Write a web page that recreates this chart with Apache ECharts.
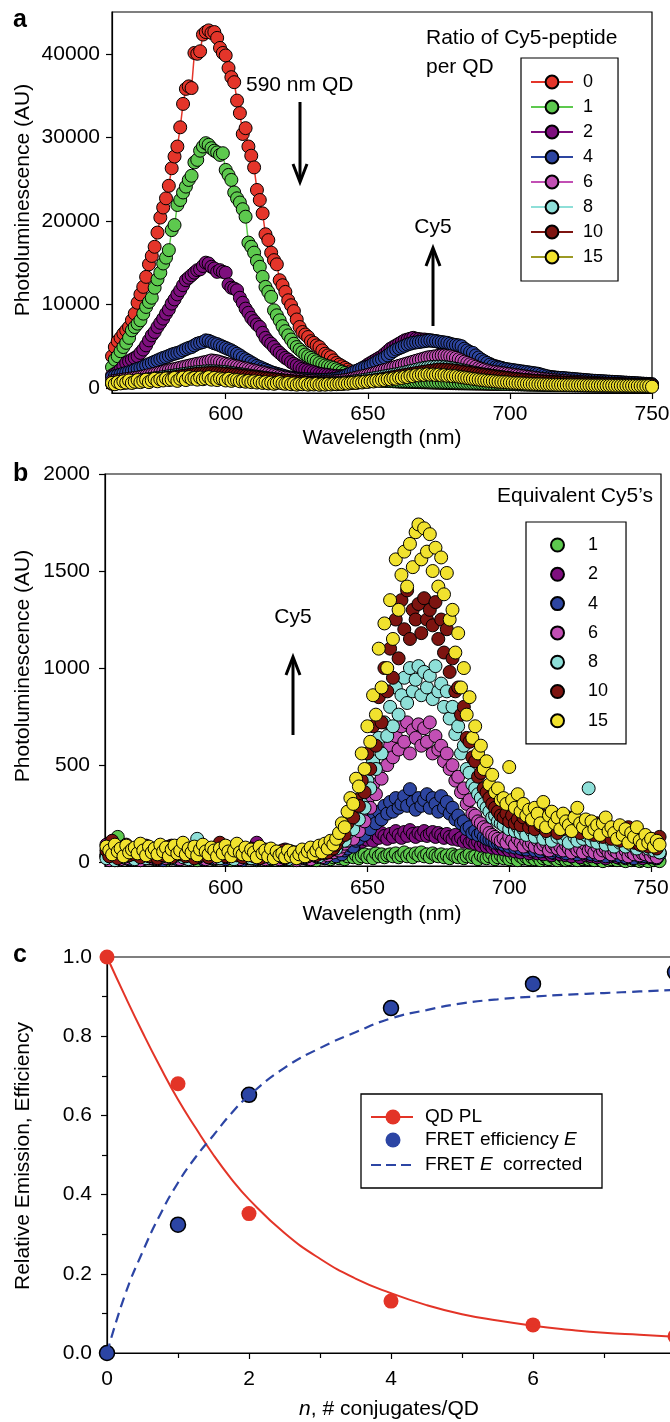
<!DOCTYPE html>
<html>
<head>
<meta charset="utf-8">
<script src="https://cdn.jsdelivr.net/npm/echarts@6/dist/echarts.min.js"></script>
<style>
html, body { margin: 0; padding: 0; background: #fff; }
#chart { width: 670px; height: 1422px; }
</style>
</head>
<body>
<div id="chart"></div>
<script>
// ---------- Panel a: emission spectra, 1 nm steps from 560 to 750 nm ----------
const wavelengthA = [];
for (let w = 560; w <= 750; w++) wavelengthA.push(w);

const ratioLabels = ['0', '1', '2', '4', '6', '8', '10', '15'];

const specA0 = [3800,
  4900,5600,6000,6500,6900,7300,8100,8900,10200,11200,
  12100,13300,14800,15800,16900,18600,20400,21600,22700,24200,
  26300,27700,28900,31200,34000,35800,36100,35900,40100,40000,
  40300,42300,42600,42800,42500,42600,41900,40700,40100,39800,
  38300,37200,36600,34400,32900,30400,31100,28900,27800,26400,
  23700,22500,20900,18400,17700,16200,15300,14800,12900,12300,
  11500,10500,9900,9200,8200,7300,6700,6400,6100,5600,
  5400,5100,4900,4500,4100,3900,3700,3300,3000,2800,
  2600,2400,2200,2000,1850,1700,1550,1400,1300,1200,
  1100,1050,1000,950,900,870,850,820,800,780,
  760,750,740,730,720,710,700,690,680,670,
  660,650,640,630,620,610,600,590,580,570,
  560,550,545,540,535,530,525,520,515,510,
  505,500,495,490,485,480,475,470,465,460,
  455,450,445,440,435,430,425,420,415,410,
  405,400,395,390,385,380,375,370,365,360,
  355,350,345,340,335,330,325,320,318,316,
  314,312,310,308,306,304,302,300,298,296,
  294,292,290,288,286,284,282,280,278,276];

const specA1 = [2500,
  3400,3800,4400,4900,5400,6000,6900,7300,7700,8100,
  8900,9700,10300,10800,12000,13000,13800,14900,15600,16500,
  18900,19500,21900,22500,23400,24100,24900,25400,27000,27300,
  28400,28900,29300,29100,28700,28400,28200,27900,28100,26100,
  25500,24900,23400,22700,22200,21400,20500,17400,16900,16200,
  15200,14500,13300,12100,11500,10900,9300,8700,8100,7400,
  6800,6300,5800,5300,4900,4600,4300,4000,3800,3600,
  3400,3200,3000,2850,2700,2600,2500,2400,2250,2100,
  1950,1800,1650,1500,1400,1300,1200,1100,1050,1000,
  960,930,900,880,860,850,840,840,830,830,
  820,820,810,810,800,800,790,790,780,770,
  760,750,740,730,720,710,700,690,680,670,
  660,650,640,630,620,610,600,590,580,570,
  560,550,540,530,520,510,500,490,480,470,
  460,450,440,430,420,410,400,395,390,385,
  380,375,370,365,360,355,350,345,340,335,
  330,325,320,315,310,305,300,298,296,294,
  292,290,288,286,284,282,280,278,276,274,
  272,270,268,266,264,262,260,258,256,254];

const specA2 = [1500,
  1700,1900,2200,2600,3000,3200,3400,3600,3800,4200,
  4600,5100,5700,6300,6700,7300,7800,8300,8900,9400,
  10100,10600,11200,11700,12300,12900,13200,13500,13800,14100,
  14200,14600,15000,14900,14500,14300,13900,14100,13900,13800,
  12400,12000,11900,11700,10800,10200,9500,9000,8400,8000,
  7600,7300,6600,6000,5600,5300,4900,4500,4200,3900,
  3600,3400,3100,2900,2700,2500,2300,2200,2100,2000,
  1900,1800,1700,1650,1600,1550,1500,1450,1420,1400,
  1420,1480,1560,1680,1800,1950,2150,2350,2550,2800,
  3000,3200,3400,3600,3800,4100,4400,4700,4900,5100,
  5300,5500,5700,5800,5900,6000,5900,5850,5800,5800,
  5750,5700,5650,5600,5500,5400,5300,5200,5100,5000,
  4850,4700,4550,4400,4200,4000,3800,3600,3450,3300,
  3150,3000,2850,2700,2600,2500,2400,2300,2200,2100,
  2030,1960,1900,1840,1780,1720,1660,1610,1560,1500,
  1460,1420,1380,1340,1300,1260,1220,1180,1140,1100,
  1070,1040,1010,980,950,925,900,875,850,830,
  810,790,770,750,730,710,690,670,650,630,
  610,590,570,550,530,510,490,470,450,430];

const specA4 = [1300,
  1400,1500,1600,1700,1800,1900,2000,2150,2300,2400,
  2550,2700,2850,3000,3150,3300,3450,3600,3700,3850,
  4000,4100,4200,4300,4500,4650,4800,4900,5100,5300,
  5400,5500,5700,5650,5500,5350,5250,5100,4950,4800,
  4650,4500,4300,4100,3900,3650,3450,3250,3050,2850,
  2650,2500,2350,2200,2050,1900,1800,1700,1600,1500,
  1400,1300,1250,1200,1150,1100,1080,1060,1040,1020,
  1000,990,980,980,990,1000,1030,1070,1120,1200,
  1300,1450,1600,1750,1900,2050,2200,2350,2450,2550,
  2700,2900,3100,3300,3450,3650,3900,4150,4400,4600,
  4750,4900,5050,5200,5300,5400,5450,5500,5550,5600,
  5650,5700,5650,5600,5550,5500,5450,5400,5300,5200,
  5150,5100,5000,4700,4500,4300,4200,3900,3650,3400,
  3200,3000,2800,2650,2500,2450,2400,2300,2250,2200,
  2150,2100,2050,2000,1950,1900,1850,1800,1750,1700,
  1600,1500,1400,1300,1250,1230,1210,1200,1180,1150,
  1120,1090,1060,1030,1000,970,940,910,880,860,
  840,820,800,780,760,740,720,700,680,660,
  640,620,600,580,560,540,520,500,480,460];

const specA6 = [800,
  850,900,950,1000,1050,1100,1150,1200,1250,1300,
  1380,1460,1540,1620,1700,1780,1860,1940,2020,2100,
  2180,2260,2340,2420,2500,2580,2660,2740,2820,2900,
  2950,3050,3100,3200,3300,3250,3200,3100,3000,2900,
  2820,2740,2660,2580,2500,2420,2340,2260,2180,2100,
  2020,1940,1860,1780,1700,1620,1540,1460,1380,1300,
  1240,1180,1120,1060,1000,960,920,880,850,820,
  800,780,770,760,760,760,770,790,820,850,
  890,940,1000,1070,1150,1230,1310,1390,1470,1550,
  1650,1750,1850,1950,2050,2150,2250,2350,2450,2550,
  2650,2750,2850,2950,3050,3150,3250,3350,3450,3550,
  3650,3700,3750,3800,3850,3900,3900,3850,3800,3700,
  3600,3450,3300,3150,3000,2850,2700,2550,2400,2300,
  2200,2100,2000,1950,1900,1850,1800,1750,1700,1650,
  1600,1550,1500,1450,1400,1350,1300,1250,1200,1150,
  1100,1060,1020,980,950,920,890,860,830,800,
  780,760,740,720,700,680,660,640,620,600,
  580,560,540,520,500,490,480,470,460,450,
  440,430,420,410,400,390,380,370,360,350];

const specA8 = [600,
  630,660,690,720,750,780,810,840,870,900,
  950,1000,1050,1100,1150,1200,1250,1300,1350,1400,
  1450,1500,1550,1600,1650,1700,1750,1800,1850,1900,
  1930,1960,1990,2000,2000,1990,1970,1950,1930,1900,
  1850,1800,1750,1700,1650,1600,1550,1500,1450,1400,
  1350,1300,1250,1200,1150,1100,1050,1000,950,900,
  860,820,780,740,700,680,660,640,620,600,
  590,580,570,560,560,560,570,580,590,600,
  620,650,690,730,780,830,880,930,980,1040,
  1100,1160,1220,1280,1340,1400,1460,1520,1580,1640,
  1700,1780,1860,1940,2020,2100,2180,2260,2340,2400,
  2450,2500,2520,2540,2550,2540,2500,2450,2400,2350,
  2280,2210,2140,2070,2000,1930,1860,1790,1720,1650,
  1600,1550,1500,1450,1400,1350,1300,1250,1200,1150,
  1110,1070,1030,990,960,930,900,870,840,810,
  790,770,750,730,710,690,670,650,630,610,
  590,570,550,540,530,520,510,500,490,480,
  470,460,450,440,430,420,410,400,390,380,
  370,360,350,340,330,320,310,300,290,280];

const specA10 = [500,
  530,560,590,620,650,680,710,740,770,800,
  840,880,920,960,1000,1040,1080,1120,1160,1200,
  1250,1300,1350,1400,1450,1500,1550,1600,1650,1700,
  1720,1740,1760,1780,1800,1790,1770,1750,1720,1700,
  1660,1620,1580,1540,1500,1460,1420,1380,1340,1300,
  1260,1220,1180,1140,1100,1060,1020,980,940,900,
  870,840,810,780,750,720,690,660,630,600,
  580,560,540,520,510,500,500,500,500,500,
  520,540,560,590,620,650,690,730,770,800,
  850,900,950,1000,1060,1120,1180,1240,1300,1360,
  1420,1480,1540,1600,1660,1720,1780,1840,1900,1950,
  2000,2050,2100,2150,2200,2200,2180,2160,2130,2100,
  2050,2000,1950,1900,1850,1800,1750,1700,1650,1600,
  1550,1500,1450,1400,1350,1300,1260,1220,1180,1140,
  1100,1060,1020,980,950,920,890,860,830,800,
  780,760,740,720,700,680,660,640,620,600,
  590,580,570,560,550,540,530,520,510,500,
  490,480,470,460,450,440,430,420,410,400,
  390,380,370,360,350,340,330,320,310,300];

const specA15 = [600,
  450,700,550,800,650,900,600,750,950,700,
  850,1000,700,900,1100,800,1050,900,1150,950,
  1000,1200,850,1100,1250,950,1300,1100,1200,1000,
  1250,1050,1150,1300,1000,1200,950,1150,1050,900,
  1100,850,1000,950,800,900,750,850,700,800,
  650,750,600,700,550,650,500,600,700,550,
  500,600,450,550,400,500,450,550,400,480,
  420,500,380,460,400,480,420,500,450,520,
  480,560,520,600,640,600,700,660,760,720,
  820,780,900,860,980,940,1060,1020,1150,1100,
  1250,1200,1350,1300,1450,1400,1550,1500,1600,1550,
  1650,1580,1620,1550,1600,1500,1550,1450,1480,1400,
  1420,1350,1300,1250,1200,1150,1100,1050,1000,950,
  920,880,850,820,780,750,720,700,680,650,
  620,600,580,560,540,520,500,480,460,450,
  440,430,420,410,400,390,380,370,360,360,
  350,350,340,340,330,330,320,320,310,310,
  300,300,300,290,290,290,280,280,280,270,
  270,270,260,260,250,250,240,240,230,150];

const spectraA = [specA0, specA1, specA2, specA4, specA6, specA8, specA10, specA15];

// ---------- Panel b: Cy5 emission, 1 nm steps from 558 to 753 nm ----------
const wavelengthB = [];
for (let w = 558; w <= 753; w++) wavelengthB.push(w);

const equivLabels = ['1', '2', '4', '6', '8', '10', '15'];

const specB1 = [
  30,20,50,10,130,40,25,60,15,35,
  20,45,10,30,55,25,40,15,35,50,
  25,10,40,20,45,30,15,35,50,20,
  40,25,10,35,55,20,30,45,15,40,
  25,50,20,35,10,40,30,15,45,25,
  35,20,45,10,30,40,25,50,15,35,
  20,40,15,30,45,25,10,35,20,40,
  30,15,45,25,10,35,40,20,30,15,
  25,35,20,40,15,30,45,25,35,20,
  30,40,25,35,20,45,30,40,25,35,
  40,30,45,25,35,50,30,40,25,45,
  35,50,30,40,25,45,35,30,40,25,
  35,20,40,30,25,35,20,30,40,25,
  30,15,35,25,20,30,40,15,25,35,
  20,30,15,25,35,10,30,20,25,15,
  25,15,30,10,20,25,15,30,20,10,
  20,25,10,15,30,20,10,25,15,20,
  15,20,10,25,15,5,20,10,15,25,
  10,20,15,5,25,10,15,20,5,10,
  15,5,20,10,15,5];

const specB2 = [
  90,50,20,70,35,55,25,80,40,60,
  30,65,45,20,75,35,55,25,60,40,
  70,30,50,85,25,45,60,35,20,55,
  40,65,30,50,75,25,45,60,35,20,
  55,40,70,30,60,45,25,55,40,65,
  30,50,35,100,45,20,55,40,60,30,
  50,25,45,65,35,55,30,40,20,50,
  35,60,45,25,55,40,70,50,35,65,
  40,55,70,60,80,75,90,100,95,110,
  105,120,115,130,110,140,125,150,135,120,
  145,130,160,140,125,155,135,165,145,130,
  150,140,160,135,145,155,130,150,140,125,
  145,130,120,140,115,125,105,120,100,110,
  95,105,85,100,80,90,75,85,70,80,
  65,75,60,80,55,70,50,65,60,45,
  55,65,45,60,40,55,50,35,45,55,
  40,50,35,45,30,55,40,25,45,35,
  40,30,50,25,45,35,20,40,30,45,
  25,40,30,20,35,45,25,30,40,20,
  35,25,40,30,20,45];

const specB4 = [
  40,20,60,30,10,50,25,45,15,35,
  20,40,55,15,30,45,20,35,50,25,
  10,35,20,45,30,15,40,25,50,20,
  35,50,25,40,15,30,55,20,45,30,
  25,40,15,35,50,20,30,45,10,35,
  20,45,30,15,40,25,50,35,20,30,
  45,25,35,15,40,20,30,50,25,35,
  20,40,30,55,25,45,35,20,50,40,
  45,30,55,40,60,70,85,80,110,120,
  150,140,190,170,230,200,260,220,290,250,
  310,260,330,280,300,340,290,376,310,270,
  330,290,320,350,280,330,300,260,340,280,
  310,250,280,220,240,200,210,170,180,150,
  160,140,150,130,120,115,110,100,100,95,
  90,100,80,95,75,85,70,90,65,80,
  75,60,85,55,70,65,80,50,60,70,
  55,65,45,70,50,60,40,55,65,45,
  50,40,60,35,55,45,30,50,40,35,
  45,30,50,25,40,35,20,45,30,40,
  30,45,25,35,20,40];

const specB6 = [
  30,10,45,25,60,15,40,20,50,35,
  25,45,10,35,55,20,40,30,15,50,
  35,20,45,60,25,40,15,35,50,30,
  20,40,55,25,35,15,45,30,50,20,
  35,55,25,40,20,45,30,15,40,25,
  45,20,35,50,25,40,15,30,45,20,
  30,15,40,25,50,20,35,10,30,45,
  20,35,15,40,30,50,25,45,35,55,
  50,65,60,80,95,110,130,120,170,160,
  230,210,320,280,400,350,480,430,560,500,
  600,540,650,580,700,620,720,560,680,640,
  710,600,690,620,720,560,650,580,600,520,
  560,480,500,420,440,360,380,300,320,250,
  240,210,200,180,170,150,140,130,120,110,
  120,100,130,110,90,120,100,80,110,90,
  100,80,110,70,90,100,60,80,90,70,
  80,60,90,70,50,80,60,70,50,90,
  60,70,50,80,40,60,70,50,40,60,
  50,70,40,60,30,50,40,60,35,45,
  40,55,30,45,25,50];

const specB8 = [
  20,50,35,10,65,40,25,55,30,45,
  15,60,35,50,20,45,30,70,40,25,
  55,30,45,20,60,35,50,25,40,15,
  45,70,120,30,55,40,25,60,35,50,
  20,45,30,55,40,15,50,35,60,25,
  40,20,55,30,45,25,35,50,20,40,
  30,50,25,40,15,35,45,20,30,55,
  25,40,60,35,50,30,55,45,70,60,
  80,70,100,120,110,150,190,170,240,220,
  300,280,420,380,520,480,640,560,720,650,
  800,700,900,760,860,950,820,1000,880,940,
  1010,860,980,900,960,840,1010,880,920,800,
  880,740,800,660,700,560,600,480,460,400,
  380,350,330,300,280,260,230,240,210,200,
  190,220,170,200,160,180,150,170,140,190,
  160,130,180,150,120,170,140,110,160,130,
  150,120,140,100,160,130,110,150,120,140,
  380,110,130,100,150,120,90,140,110,80,
  120,100,130,80,110,90,120,70,100,85,
  90,70,100,60,80,50];

const specB10 = [
  60,30,110,45,20,75,50,90,35,60,
  40,70,25,55,85,30,65,45,20,50,
  35,60,80,25,50,70,40,55,30,65,
  45,20,60,35,75,50,25,55,40,70,
  100,55,30,65,45,80,35,60,25,50,
  40,70,30,55,20,45,65,35,50,25,
  45,30,60,20,40,55,30,45,25,35,
  50,30,40,60,35,55,45,70,50,80,
  70,90,120,160,140,200,260,230,320,290,
  420,360,560,480,700,600,850,720,1000,880,
  1100,950,1250,1050,1350,1200,1400,1150,1300,1250,
  1330,1180,1360,1250,1300,1220,1340,1150,1250,1080,
  1200,980,1050,880,900,760,800,640,620,540,
  520,440,460,380,360,330,300,280,260,240,
  230,250,210,240,200,220,190,230,250,180,
  210,170,230,190,240,160,200,220,180,150,
  210,170,190,230,160,200,180,150,210,170,
  190,160,140,200,170,130,180,150,120,170,
  140,110,160,130,180,120,100,150,90,130,
  110,80,120,95,70,130];

const specB15 = [
  80,60,40,90,55,70,30,85,50,65,
  75,45,95,60,35,80,50,70,40,90,
  55,75,30,65,85,45,60,100,40,70,
  50,80,35,65,90,55,40,75,60,30,
  70,45,85,55,30,60,95,50,40,75,
  35,65,50,25,80,45,60,30,70,20,
  55,35,45,25,60,30,50,20,40,65,
  30,55,75,40,60,85,50,95,70,110,
  90,120,150,200,180,260,330,300,430,390,
  560,480,700,620,860,760,1100,900,1230,1000,
  1350,1150,1560,1300,1480,1600,1420,1640,1520,1700,
  1740,1560,1720,1600,1690,1500,1620,1420,1570,1380,
  1490,1250,1300,1080,1180,900,1000,760,850,640,
  700,560,600,480,520,400,450,360,380,320,
  330,300,490,320,280,350,260,300,240,270,
  220,280,250,200,310,180,240,260,200,230,
  170,250,210,190,160,230,280,200,180,220,
  150,210,170,190,140,200,230,160,180,150,
  120,190,140,170,100,150,130,180,110,90,
  140,100,120,80,110,90];

const spectraB = [specB1, specB2, specB4, specB6, specB8, specB10, specB15];

// ---------- Panel c: quenching and FRET efficiency vs conjugates per QD ----------
const nConjugates = [0, 1, 2, 4, 6, 8];
const qdPL = [1.0, 0.68, 0.352, 0.131, 0.071, 0.042];
const fretEff = [0, 0.324, 0.652, 0.871, 0.932, 0.962];

const nCurve = [0, 0.25, 0.5, 0.75, 1, 1.25, 1.5, 1.75, 2, 2.5, 3, 3.5, 4, 4.5, 5, 5.5, 6, 6.5, 7, 7.5, 8];
const qdPLFit = [1.0, 0.903, 0.81, 0.722, 0.64, 0.568, 0.5, 0.44, 0.388, 0.303, 0.238, 0.188, 0.151, 0.121, 0.098, 0.082, 0.069, 0.059, 0.051, 0.046, 0.041];
const fretFit = [0, 0.145, 0.255, 0.35, 0.43, 0.495, 0.55, 0.605, 0.65, 0.72, 0.77, 0.81, 0.845, 0.866, 0.883, 0.893, 0.9, 0.905, 0.909, 0.913, 0.917];

// tick positions
const ticksAx = [600, 650, 700, 750];
const ticksAy = [0, 10000, 20000, 30000, 40000];
const ticksBx = [600, 650, 700, 750];
const ticksBy = [0, 500, 1000, 1500, 2000];

// ---------- styling ----------
const FONT = "'Liberation Sans', Arial, Helvetica, sans-serif";
const INK = '#000';
const palette = ['#E4352A', '#5DC94E', '#7E0F7E', '#2D45A0', '#C24FB4', '#8EDFD8', '#7D1410', '#F1E22E'];
const lineColors = ['#E4352A', '#5DC94E', '#7E0F7E', '#2D45A0', '#C24FB4', '#8EDFD8', '#7D1410', '#9C9A24'];
const paletteB = palette.slice(1);
const RED_C = '#E33427';
const BLUE_C = '#2C45A4';

function axisCommon(extra) {
  return Object.assign({
    type: 'value',
    axisLine: { show: true, onZero: false, lineStyle: { color: INK, width: 1.2 } },
    axisTick: { show: true, inside: false, length: 6, lineStyle: { color: INK, width: 1.2 } },
    splitLine: { show: false },
    axisLabel: { color: INK, fontSize: 21, fontFamily: FONT }
  }, extra);
}

const chart = echarts.init(document.getElementById('chart'), null, { renderer: 'canvas' });

const seriesList = [];

spectraA.forEach((spec, k) => {
  seriesList.push({
    name: ratioLabels[k],
    type: 'line',
    xAxisIndex: 0, yAxisIndex: 0,
    data: wavelengthA.map((w, i) => [w, spec[i]]),
    symbol: 'circle',
    symbolSize: 13,
    showSymbol: true,
    showAllSymbol: true,
    clip: false,
    lineStyle: { color: lineColors[k], width: 1.5 },
    itemStyle: { color: palette[k], borderColor: INK, borderWidth: 1 },
    emphasis: { disabled: true },
    silent: true
  });
});

spectraB.forEach((spec, k) => {
  seriesList.push({
    name: 'eq' + equivLabels[k],
    type: 'scatter',
    xAxisIndex: 1, yAxisIndex: 1,
    data: wavelengthB.map((w, i) => [w, spec[i]]),
    symbol: 'circle',
    symbolSize: 13,
    clip: false,
    itemStyle: { color: paletteB[k], borderColor: INK, borderWidth: 1, opacity: 1 },
    emphasis: { disabled: true },
    silent: true
  });
});

seriesList.push({
  name: 'QD PL fit', type: 'line', xAxisIndex: 2, yAxisIndex: 2,
  data: nCurve.map((n, i) => [n, qdPLFit[i]]),
  smooth: 0.5, showSymbol: false, symbol: 'none', clip: false,
  lineStyle: { color: RED_C, width: 2 }, silent: true
});
seriesList.push({
  name: 'FRET E corrected', type: 'line', xAxisIndex: 2, yAxisIndex: 2,
  data: nCurve.map((n, i) => [n, fretFit[i]]),
  smooth: 0.5, showSymbol: false, symbol: 'none', clip: false,
  lineStyle: { color: BLUE_C, width: 2.2, type: [10, 6] }, silent: true
});
seriesList.push({
  name: 'QD PL', type: 'scatter', xAxisIndex: 2, yAxisIndex: 2,
  data: nConjugates.map((n, i) => [n, qdPL[i]]),
  symbol: 'circle', symbolSize: 15, clip: false,
  itemStyle: { color: RED_C, opacity: 1 }, silent: true
});
seriesList.push({
  name: 'FRET efficiency E', type: 'scatter', xAxisIndex: 2, yAxisIndex: 2,
  data: nConjugates.map((n, i) => [n, fretEff[i]]),
  symbol: 'circle', symbolSize: 15, clip: false,
  itemStyle: { color: BLUE_C, borderColor: INK, borderWidth: 1.5, opacity: 1 }, silent: true
});

function text(x, y, str, o) {
  o = o || {};
  return {
    type: 'text', x: x, y: y, rotation: o.rotation || 0, silent: true, z: 100,
    style: {
      text: str, fill: INK,
      fontSize: o.size || 21, fontFamily: FONT,
      fontWeight: o.weight || 'normal',
      align: o.align || 'left', textAlign: o.align || 'left',
      verticalAlign: 'middle', textVerticalAlign: 'middle',
      lineHeight: o.lineHeight, rich: o.rich
    }
  };
}

function arrow(x, yTail, yTip) {
  const dir = yTip > yTail ? -1 : 1;
  return [
    { type: 'line', silent: true, z: 100, shape: { x1: x, y1: yTail, x2: x, y2: yTip + dir * 1 },
      style: { stroke: INK, lineWidth: 3 } },
    { type: 'polyline', silent: true, z: 100,
      shape: { points: [[x - 7, yTip + dir * 18], [x, yTip], [x + 7, yTip + dir * 18]] },
      style: { stroke: INK, lineWidth: 3, fill: null, lineJoin: 'miter' } }
  ];
}

const italicRich = {
  i: { fontStyle: 'italic', fontSize: 21, fontFamily: FONT, fill: INK },
  r: { fontSize: 21, fontFamily: FONT, fill: INK }
};
const italicRichSmall = {
  i: { fontStyle: 'italic', fontSize: 19, fontFamily: FONT, fill: INK },
  r: { fontSize: 19, fontFamily: FONT, fill: INK }
};

const graphics = [
  // panel letters
  text(13, 20, 'a', { size: 25, weight: 'bold' }),
  text(13, 474, 'b', { size: 25, weight: 'bold' }),
  text(13, 955, 'c', { size: 25, weight: 'bold' }),
  // axis titles
  text(23, 200, 'Photoluminescence (AU)', { rotation: Math.PI / 2, align: 'center' }),
  text(382, 438, 'Wavelength (nm)', { align: 'center' }),
  text(23, 666, 'Photoluminescence (AU)', { rotation: Math.PI / 2, align: 'center' }),
  text(382, 914, 'Wavelength (nm)', { align: 'center' }),
  text(23, 1156, 'Relative Emission, Efficiency', { rotation: Math.PI / 2, align: 'center' }),
  text(389, 1409, '{i|n}{r|, # conjugates/QD}', { align: 'center', rich: italicRich }),
  // panel a annotations
  text(426, 38, 'Ratio of Cy5-peptide', {}),
  text(426, 67, 'per QD', {}),
  text(246, 85, '590 nm QD', {}),
  text(433, 227, 'Cy5', { align: 'center' }),
  ...arrow(300, 102, 182),
  ...arrow(433, 326, 248),
  // panel b annotations
  text(653, 496, 'Equivalent Cy5\u2019s', { align: 'right' }),
  text(293, 617, 'Cy5', { align: 'center' }),
  ...arrow(293, 735, 657),
  // panel c legend
  { type: 'rect', silent: true, z: 100, shape: { x: 361, y: 1094, width: 241, height: 94 },
    style: { fill: '#fff', stroke: INK, lineWidth: 1.3 } },
  { type: 'line', silent: true, z: 101, shape: { x1: 371, y1: 1117, x2: 413, y2: 1117 },
    style: { stroke: RED_C, lineWidth: 2 } },
  { type: 'circle', silent: true, z: 102, shape: { cx: 393, cy: 1117, r: 7.5 },
    style: { fill: RED_C } },
  { type: 'circle', silent: true, z: 102, shape: { cx: 393, cy: 1140, r: 7.5 },
    style: { fill: BLUE_C } },
  { type: 'line', silent: true, z: 101, shape: { x1: 371, y1: 1165, x2: 413, y2: 1165 },
    style: { stroke: BLUE_C, lineWidth: 2.2, lineDash: [10, 5] } },
  Object.assign(text(425, 1117, 'QD PL', { size: 19 }), { z: 103 }),
  Object.assign(text(425, 1140, '{r|FRET efficiency }{i|E}', { size: 19, rich: italicRichSmall }), { z: 103 }),
  Object.assign(text(425, 1165, '{r|FRET }{i|E}{r|  corrected}', { size: 19, rich: italicRichSmall }), { z: 103 })
];

const option = {
  animation: false,
  backgroundColor: '#fff',
  textStyle: { fontFamily: FONT },
  grid: [
    { left: 112, top: 12, width: 540, height: 381, show: true, borderColor: INK, borderWidth: 1.2,
      backgroundColor: 'transparent', containLabel: false, outerBoundsMode: 'none' },
    { left: 105, top: 474, width: 556, height: 392, show: true, borderColor: INK, borderWidth: 1.2,
      backgroundColor: 'transparent', containLabel: false, outerBoundsMode: 'none' },
    { left: 107, top: 957, width: 568, height: 396, show: true, borderColor: INK, borderWidth: 1.2,
      backgroundColor: 'transparent', containLabel: false, outerBoundsMode: 'none' }
  ],
  xAxis: [
    axisCommon({ gridIndex: 0, min: 560, max: 750,
      axisTick: { show: true, length: 6, lineStyle: { color: INK, width: 1.2 }, customValues: ticksAx },
      axisLabel: { color: INK, fontSize: 21, fontFamily: FONT, margin: 11, customValues: ticksAx, formatter: v => String(v) } }),
    axisCommon({ gridIndex: 1, min: 557.5, max: 753.5,
      axisTick: { show: true, length: 6, lineStyle: { color: INK, width: 1.2 }, customValues: ticksBx },
      axisLabel: { color: INK, fontSize: 21, fontFamily: FONT, margin: 12, customValues: ticksBx, formatter: v => String(v) } }),
    axisCommon({ gridIndex: 2, min: 0, max: 8, interval: 2,
      minorTick: { show: true, splitNumber: 2, length: 5, lineStyle: { color: INK, width: 1.2 } },
      axisLabel: { color: INK, fontSize: 21, fontFamily: FONT, margin: 16, formatter: v => String(v) } })
  ],
  yAxis: [
    axisCommon({ gridIndex: 0, min: -600, max: 45000,
      axisTick: { show: true, length: 6, lineStyle: { color: INK, width: 1.2 }, customValues: ticksAy },
      axisLabel: { color: INK, fontSize: 21, fontFamily: FONT, margin: 12, customValues: ticksAy, formatter: v => String(v) } }),
    axisCommon({ gridIndex: 1, min: -20, max: 2000,
      axisTick: { show: true, length: 6, lineStyle: { color: INK, width: 1.2 }, customValues: ticksBy },
      axisLabel: { color: INK, fontSize: 21, fontFamily: FONT, margin: 15, customValues: ticksBy, formatter: v => String(v) } }),
    axisCommon({ gridIndex: 2, min: 0, max: 1, interval: 0.2,
      minorTick: { show: true, splitNumber: 2, length: 5, lineStyle: { color: INK, width: 1.2 } },
      axisLabel: { color: INK, fontSize: 21, fontFamily: FONT, margin: 15, formatter: v => v.toFixed(1) } })
  ],
  legend: [
    {
      data: ratioLabels, orient: 'vertical', left: 521, top: 58,
      itemWidth: 42, itemHeight: 16, itemGap: 7,
      padding: [15, 15, 15, 9],
      borderColor: INK, borderWidth: 1.2, backgroundColor: '#fff',
      selectedMode: false, z: 50,
      lineStyle: { width: 2 },
      textStyle: { color: INK, fontSize: 18, fontFamily: FONT, padding: [0, 0, 0, 5] }
    },
    {
      data: equivLabels.map(l => 'eq' + l), orient: 'vertical', left: 526, top: 522,
      itemWidth: 13, itemHeight: 13, itemGap: 11.3,
      padding: [14, 18, 14, 24],
      borderColor: INK, borderWidth: 1.2, backgroundColor: '#fff',
      selectedMode: false, z: 50, icon: 'circle',
      formatter: name => name.replace('eq', ''),
      textStyle: { color: INK, fontSize: 18, fontFamily: FONT, padding: [0, 0, 0, 19] }
    }
  ],
  series: seriesList,
  graphic: { elements: graphics }
};

chart.setOption(option);
</script>
</body>
</html>
